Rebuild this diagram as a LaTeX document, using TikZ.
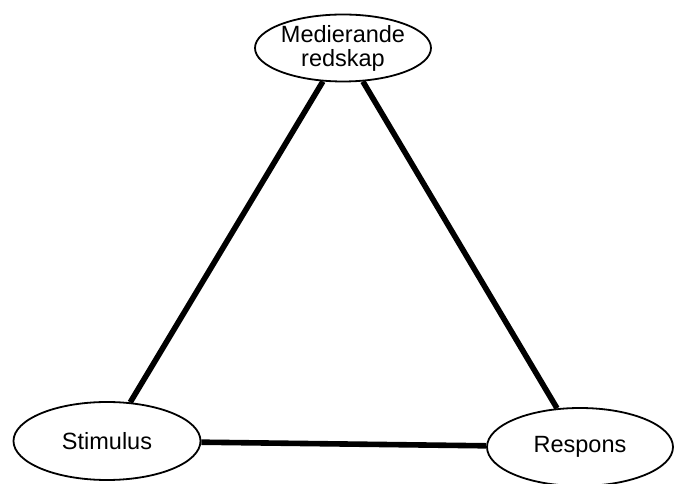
\documentclass[tikz,border=0pt]{standalone}
\usepackage{fontspec}
\setmainfont{Liberation Sans}
\usetikzlibrary{shapes.geometric}

\begin{document}
\begin{tikzpicture}[
    x=1pt, y=1pt,
    every node/.style={font=\fontsize{23.5}{24}\selectfont},
    actor/.style={
        ellipse,
        draw=black,
        line width=1.8pt,
        fill=white,
        align=center,
        inner sep=0pt
    },
    link/.style={line width=5.6pt, black}
]

% ==================== Frame ====================
\useasboundingbox (0,0) rectangle (674,484);

% ==================== Triangle corners ====================
\node[actor, minimum width=176pt, minimum height=67pt] (tool) at (343,436) {%
  Medierande\\redskap%
};
\node[actor, minimum width=187pt, minimum height=78pt] (stim) at (107,43) {Stimulus};
\node[actor, minimum width=186pt, minimum height=78pt] (resp) at (580,37) {Respons};

% ==================== Sides ====================
\draw[link] (tool) -- (stim);
\draw[link] (tool) -- (resp);
\draw[link] (stim) -- (resp);

\end{tikzpicture}
\end{document}
